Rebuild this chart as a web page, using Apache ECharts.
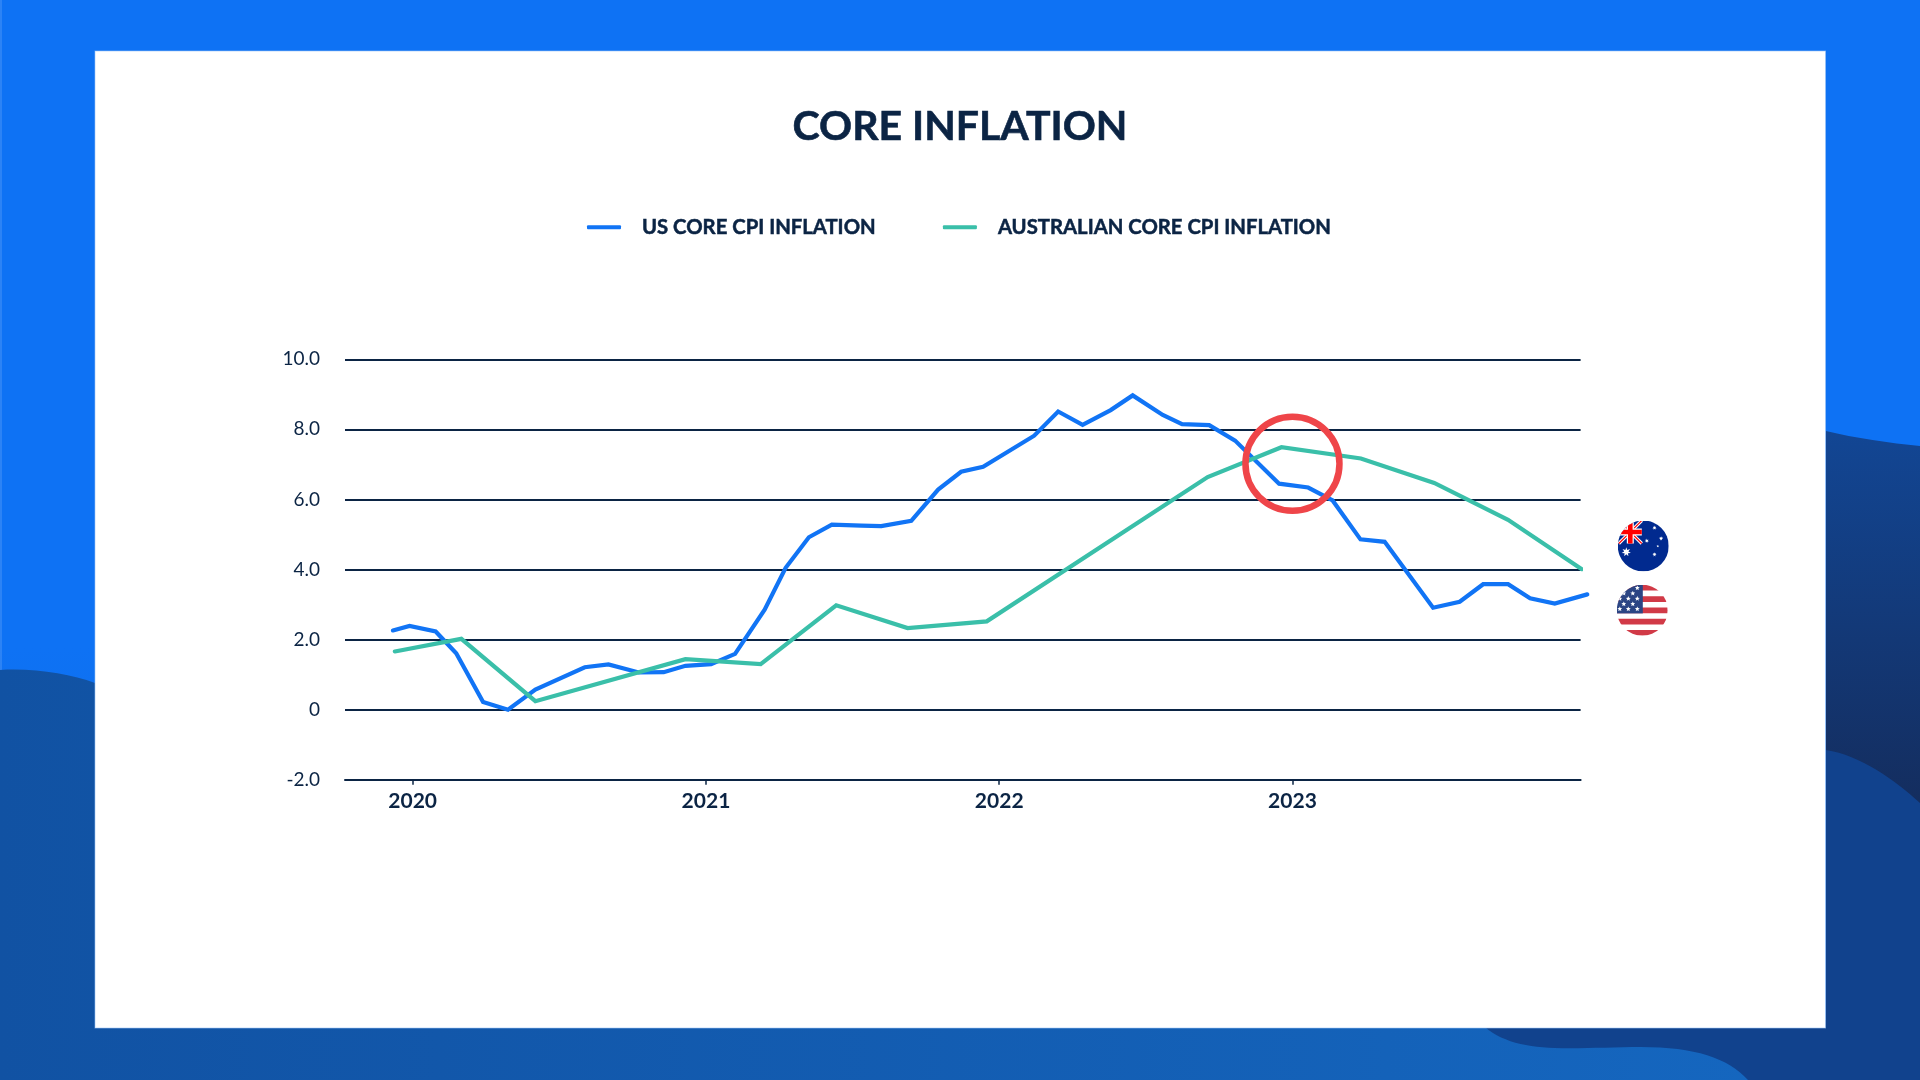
<!DOCTYPE html>
<html>
<head>
<meta charset="utf-8">
<title>Core inflation</title>
<style>
  html, body { margin: 0; padding: 0; background: #0e72f4; }
  #myChart { width: 1920px; height: 1080px; }
</style>
<script src="https://cdn.jsdelivr.net/npm/echarts@6/dist/echarts.min.js"></script>
</head>
<body>
<div id="myChart"></div>
<script>
// months are counted from Jan 2020, the source line's vertices are not evenly spaced
let usMonths = [-0.81, -0.13, 0.94, 1.78, 2.88, 3.90, 5.02, 7.04, 8.01, 9.25, 10.27, 11.16, 12.21, 13.19, 14.40, 15.26, 16.21, 17.15, 18.36, 19.17, 20.40, 21.50, 22.44, 23.34, 25.43, 26.41, 27.41, 28.56, 29.46, 30.69, 31.48, 32.59, 33.65, 35.45, 36.64, 37.64, 38.78, 39.77, 41.75, 42.84, 43.80, 44.82, 45.72, 46.73, 48.06]
let usValues = [2.26, 2.39, 2.23, 1.61, 0.22, 0.0, 0.57, 1.21, 1.29, 1.06, 1.07, 1.25, 1.30, 1.59, 2.85, 4.05, 4.92, 5.28, 5.25, 5.24, 5.39, 6.28, 6.79, 6.93, 7.82, 8.51, 8.13, 8.55, 8.97, 8.41, 8.15, 8.12, 7.68, 6.45, 6.34, 5.97, 4.86, 4.79, 2.91, 3.08, 3.58, 3.58, 3.18, 3.03, 3.29]
let auMonths = [-0.73, 1.99, 5.02, 11.16, 14.24, 17.33, 20.25, 23.49, 32.53, 35.55, 38.80, 41.80, 44.82, 47.84]
let auValues = [1.66, 2.02, 0.24, 1.44, 1.30, 2.98, 2.33, 2.52, 6.64, 7.49, 7.17, 6.47, 5.42, 4.01]
let yearTicks = [0, 12, 24, 36]
let yearLabels = ['2020', '2021', '2022', '2023']
let highlightMonth = 36
let highlightValue = 7.02

let navy = '#0b2444'
let usColor = '#1174f5'
let auColor = '#3abfa9'
let fontName = 'Lato'

function zip(xs, ys) {
    return xs.map(function (x, i) { return [x, ys[i]] })
}

function svgUri(w, h, body) {
    let svg = '<svg xmlns="http://www.w3.org/2000/svg" width="' + w + '" height="' + h + '" viewBox="0 0 ' + w + ' ' + h + '">' + body + '</svg>'
    return 'data:image/svg+xml;charset=utf-8,' + encodeURIComponent(svg)
}

function star(cx, cy, r, n) {
    let pts = []
    for (let i = 0; i < n * 2; i++) {
        let a = -Math.PI / 2 + i * Math.PI / n
        let d = i % 2 ? r * 0.45 : r
        pts.push((cx + d * Math.cos(a)).toFixed(2) + ',' + (cy + d * Math.sin(a)).toFixed(2))
    }
    return '<polygon fill="#fff" points="' + pts.join(' ') + '"/>'
}

// page background: gradients and the wave shapes
let backgroundSvg = svgUri(1920, 1080,
    '<defs>' +
    '<linearGradient id="top" x1="0" y1="0" x2="0" y2="1"><stop offset="0" stop-color="#0e72f4"/><stop offset="0.6" stop-color="#0e72f4"/><stop offset="1" stop-color="#0f68dc"/></linearGradient>' +
    '<linearGradient id="bottom" x1="0" y1="0" x2="1" y2="0"><stop offset="0" stop-color="#1152a3"/><stop offset="1" stop-color="#1567c0"/></linearGradient>' +
    '<linearGradient id="right" x1="0" y1="0" x2="0" y2="1"><stop offset="0" stop-color="#124694"/><stop offset="1" stop-color="#142c5c"/></linearGradient>' +
    '</defs>' +
    '<rect width="1920" height="1080" fill="url(#top)"/>' +
    '<rect x="0.5" y="0" width="1" height="1080" fill="#fff" opacity="0.25"/>' +
    '<path fill="url(#bottom)" d="M0 670 C35 668 70 674 95 683 L95 1000 L1825 1000 L1825 1080 L0 1080 Z"/>' +
    '<path fill="url(#right)" d="M1826 431 C1855 438 1890 443 1920 446 L1920 820 L1826 820 Z"/>' +
    '<path fill="#11428d" d="M1826 750 C1860 755 1895 780 1920 803 L1920 1080 L1748 1080 C1728 1058 1695 1047 1641 1047 C1610 1047 1580 1049 1555 1048 C1522 1047 1495 1040 1478 1020 L1826 1020 Z"/>' +
    '<rect x="95" y="51" width="1730.5" height="977" fill="#fff" stroke="#9cc4f7" stroke-opacity="0.6" stroke-width="1"/>'
)

let auFlagSvg = svgUri(102, 102,
    '<defs><clipPath id="c"><circle cx="25.5" cy="25.5" r="25.5"/></clipPath></defs>' +
    '<g transform="scale(2)"><g clip-path="url(#c)">' +
    '<rect width="51" height="51" fill="#012a8f"/>' +
    '<path d="M1 0 L24 23 M24 0 L1 23" stroke="#fff" stroke-width="3.2"/>' +
    '<path d="M1 0 L24 23 M24 0 L1 23" stroke="#f00" stroke-width="1.1"/>' +
    '<path d="M12.5 0 V23 M1 11.5 H24" stroke="#fff" stroke-width="7"/>' +
    '<path d="M12.5 0 V23 M1 11.5 H24" stroke="#f00" stroke-width="4.6"/>' +
    star(8.5, 31.5, 4.8, 7) + star(36.7, 7.3, 2.2, 7) + star(43.3, 18, 2.2, 7) +
    star(29, 20.3, 2.2, 7) + star(40, 25.7, 1.4, 5) + star(36.7, 34, 2.2, 7) +
    '</g></g>'
)

let usFlagSvg = svgUri(102, 102,
    '<defs><clipPath id="c"><circle cx="25.5" cy="25.5" r="25.5"/></clipPath></defs>' +
    '<g transform="scale(2)"><g clip-path="url(#c)">' +
    '<rect width="51" height="51" fill="#fff"/>' +
    '<path d="M0 3 H51 M0 14.4 H51 M0 25.6 H51 M0 37 H51 M0 48.2 H51" stroke="#d13a47" stroke-width="5.8"/>' +
    '<rect width="26" height="28.7" fill="#2b4584"/>' +
    star(20.5, 3.3, 2.6, 5) + star(16, 8.7, 2.6, 5) + star(7, 8.7, 2.6, 5) +
    star(3, 14, 2.6, 5) + star(11.5, 14, 2.6, 5) + star(20.5, 14, 2.6, 5) +
    star(7, 19.3, 2.6, 5) + star(16, 19.3, 2.6, 5) +
    star(3, 24.3, 2.6, 5) + star(11.5, 24.3, 2.6, 5) + star(20.5, 24.3, 2.6, 5) +
    '</g></g>'
)

let myChart = echarts.init(document.getElementById('myChart'), null, { renderer: 'canvas' })

let option = {
    animation: false,
    textStyle: { fontFamily: fontName, color: navy },
    title: {
        text: 'CORE INFLATION',
        left: 'center',
        top: 101,
        textStyle: { fontFamily: fontName, fontWeight: 'bold', fontSize: 41, color: navy, textBorderColor: navy, textBorderWidth: 0.6 }
    },
    legend: {
        left: 582,
        top: 212,
        itemWidth: 34,
        itemHeight: 4,
        itemGap: 67,
        icon: 'roundRect',
        textStyle: { fontFamily: fontName, fontWeight: 'bold', fontSize: 20.3, color: navy, padding: [0, 0, 0, 16], textBorderColor: navy, textBorderWidth: 0.5 },
        data: ['US CORE CPI INFLATION', 'AUSTRALIAN CORE CPI INFLATION']
    },
    grid: [
        { left: 345, right: 339.4, top: 359.3, bottom: 300.3 },
        // same scale as the main grid, a little wider: the US line runs past the axis end
        { left: 345, right: 329.3, top: 359.3, bottom: 300.3 }
    ],
    xAxis: [
        {
            type: 'value',
            min: -2.77,
            max: 47.79,
            splitLine: { show: false },
            axisLine: { show: true, onZero: false, lineStyle: { color: navy, width: 2 } },
            axisTick: { show: true, customValues: yearTicks, length: 5, lineStyle: { color: navy, width: 1.5 } },
            axisLabel: {
                customValues: yearTicks,
                margin: 11,
                fontFamily: fontName,
                fontWeight: 'bold',
                fontSize: 21,
                color: navy,
                formatter: function (value) {
                    return yearLabels[yearTicks.indexOf(value)]
                }
            }
        },
        { type: 'value', gridIndex: 1, min: -2.77, max: 48.2, show: false }
    ],
    yAxis: [
        {
            type: 'value',
            min: -2,
            max: 10,
            interval: 2,
            axisLine: { show: false },
            axisTick: { show: false },
            splitLine: { show: true, lineStyle: { color: navy, width: 2 } },
            axisLabel: {
                margin: 25,
                padding: [4, 0, 0, 0],
                fontFamily: fontName,
                fontSize: 19,
                color: navy,
                formatter: function (value) {
                    return value === 0 ? '0' : value.toFixed(1)
                }
            }
        },
        { type: 'value', gridIndex: 1, min: -2, max: 10, interval: 2, show: false, splitLine: { show: false } }
    ],
    series: [
        {
            name: 'US CORE CPI INFLATION',
            type: 'line',
            xAxisIndex: 1,
            yAxisIndex: 1,
            clip: false,
            showSymbol: false,
            itemStyle: { color: usColor },
            lineStyle: { color: usColor, width: 4.2, cap: 'round', join: 'miter' },
            data: zip(usMonths, usValues)
        },
        {
            name: 'AUSTRALIAN CORE CPI INFLATION',
            type: 'line',
            clip: false,
            showSymbol: false,
            itemStyle: { color: auColor },
            lineStyle: { color: auColor, width: 4.2, cap: 'round', join: 'miter' },
            data: zip(auMonths, auValues),
            markPoint: {
                silent: true,
                symbol: 'circle',
                symbolSize: 94,
                label: { show: false },
                itemStyle: { color: 'rgba(0,0,0,0)', borderColor: '#ef4549', borderWidth: 6.5 },
                data: [{ coord: [highlightMonth, highlightValue] }]
            }
        }
    ],
    graphic: [
        { type: 'image', silent: true, z: -100, zlevel: 0, x: 0, y: 0, style: { image: backgroundSvg, width: 1920, height: 1080 } },
        { type: 'image', silent: true, x: 1617.8, y: 520.5, style: { image: auFlagSvg, width: 51, height: 51 } },
        { type: 'image', silent: true, x: 1616.8, y: 584.7, style: { image: usFlagSvg, width: 51, height: 51 } }
    ]
}

myChart.setOption(option)
</script>
</body>
</html>
